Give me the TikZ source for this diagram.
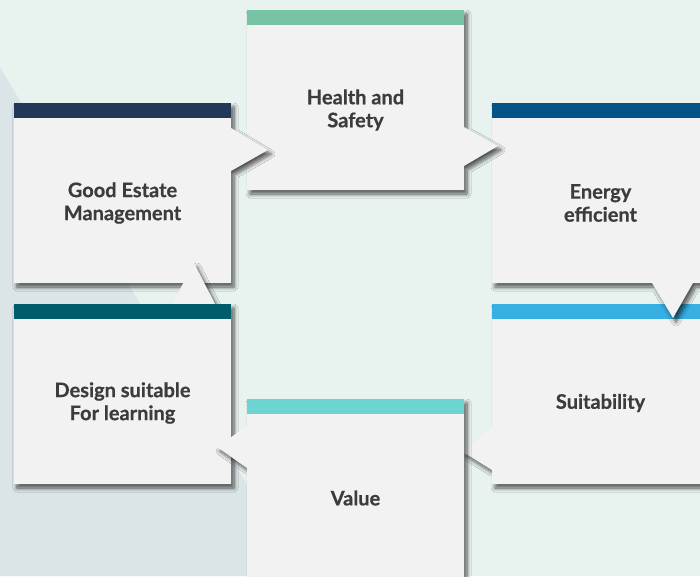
\documentclass[tikz,border=0pt]{standalone}
\usepackage{fontspec}
\setmainfont{Lato}[BoldFeatures={FakeBold=0.6}]
\usetikzlibrary{calc, shadows.blur}
\definecolor{mint}{HTML}{E8F3EF}
\definecolor{slate}{HTML}{DBE5E7}
\definecolor{cardgrey}{HTML}{F2F2F2}
\definecolor{inkgrey}{HTML}{3C3C3C}
\definecolor{healthbar}{HTML}{76C4A3}
\definecolor{estatebar}{HTML}{213858}
\definecolor{energybar}{HTML}{035486}
\definecolor{designbar}{HTML}{005B6A}
\definecolor{suitbar}{HTML}{37AFE3}
\definecolor{valuebar}{HTML}{6DD5D1}
\begin{document}
\begin{tikzpicture}[x=1pt, y=-1pt,
  card/.style={fill=cardgrey, blur shadow={shadow xshift=3pt, shadow yshift=-4pt, shadow blur radius=4pt, shadow blur steps=8, shadow opacity=65}},
  cardtext/.style={align=center, text=inkgrey, font=\bfseries\fontsize{20}{23}\selectfont}]
  \useasboundingbox (0,0) rectangle (700,576);
  \fill [mint] (0,0) rectangle (700,576);
  \fill [slate] (0,67) -- (301,576) -- (0,576) -- cycle;

  \fill [card] (492,304) -- (709,304) -- (709,484) -- (492,484) -- (492,470) -- (463,452) -- (492,427) -- cycle;
  \fill [suitbar] (492,304) rectangle (709,319);
  \node [cardtext] (suit) at (600.5,403) {Suitability};

  \fill [card] (492,103) -- (709,103) -- (709,283) -- (693,283) -- (673,318) -- (652,283) -- (492,283) -- cycle;
  \fill [energybar] (492,103) rectangle (709,118);
  \node [cardtext] (energy) at (600.5,203) {Energy\\efficient};

  \fill [card] (247,10) -- (464,10) -- (464,127) -- (498,146) -- (464,166) -- (464,190) -- (247,190) -- cycle;
  \fill [healthbar] (247,10) rectangle (464,25);
  \node [cardtext] (health) at (355.5,110) {Health and\\Safety};

  \fill [card] (14,103) -- (231,103) -- (231,128) -- (268,150) -- (231,171) -- (231,283) -- (14,283) -- cycle;
  \fill [estatebar] (14,103) rectangle (231,118);
  \node [cardtext] (estate) at (122.5,203) {Good Estate\\Management};

  \fill [card] (14,304) -- (172,304) -- (194,263) -- (215,304) -- (231,304) -- (231,484) -- (14,484) -- cycle;
  \fill [designbar] (14,304) rectangle (231,319);
  \node [cardtext] (design) at (122.5,403) {Design suitable\\For learning};

  \fill [card] (247,399) -- (464,399) -- (464,579) -- (247,579) -- (247,468) -- (217,447) -- (247,426) -- cycle;
  \fill [valuebar] (247,399) rectangle (464,414);
  \node [cardtext] (value) at (355.5,498) {Value};
\end{tikzpicture}
\end{document}
